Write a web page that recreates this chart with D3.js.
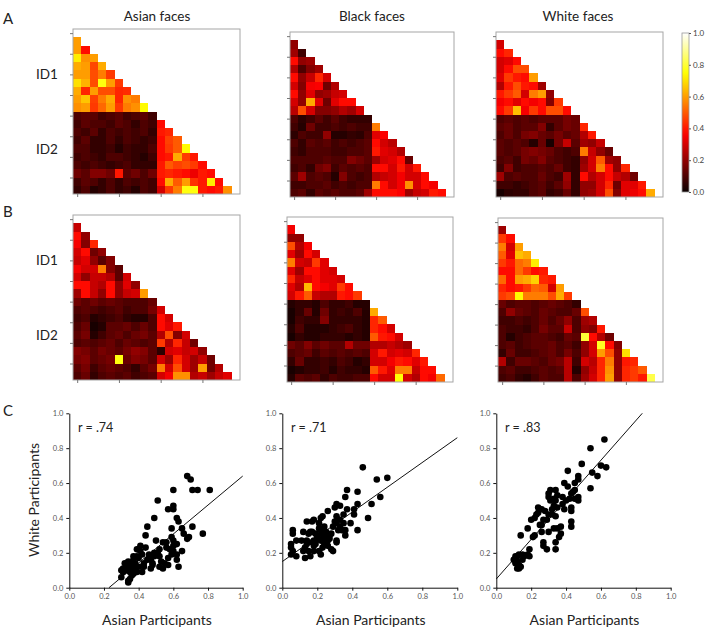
<!DOCTYPE html>
<html>
<head>
<meta charset="utf-8">
<script src="https://cdn.jsdelivr.net/npm/d3@7"></script>
<style>
  body { margin: 0; background: #fff; }
  text { font-family: Lato, "Open Sans", sans-serif; }
</style>
</head>
<body>
<svg id="fig" width="708" height="629"></svg>
<script>
// ---- DATA: similarity matrices (row i holds pairs i vs 0..i-1), 20 faces: ID1 = 0-9, ID2 = 10-19
const faceGroups = ['Asian faces', 'Black faces', 'White faces'];
const idLabels = ['ID1', 'ID2'];
const colorbarTicks = [0, 0.2, 0.4, 0.6, 0.8, 1.0];

const asianA = [
  [0.6],
  [0.6, 0.38],
  [0.72, 0.58, 0.6],
  [0.62, 0.6, 0.47, 0.62],
  [0.6, 0.6, 0.48, 0.55, 0.45],
  [0.7, 0.63, 0.48, 0.76, 0.6, 0.45],
  [0.62, 0.42, 0.6, 0.48, 0.48, 0.42, 0.43],
  [0.6, 0.66, 0.46, 0.55, 0.62, 0.42, 0.58, 0.55],
  [0.58, 0.6, 0.45, 0.52, 0.6, 0.45, 0.55, 0.58, 0.74],
  [0.1, 0.12, 0.12, 0.08, 0.1, 0.12, 0.08, 0.1, 0.12, 0.08],
  [0.08, 0.12, 0.1, 0.1, 0.08, 0.12, 0.1, 0.06, 0.1, 0.08, 0.38],
  [0.1, 0.08, 0.12, 0.06, 0.1, 0.08, 0.1, 0.08, 0.1, 0.06, 0.4, 0.42],
  [0.08, 0.12, 0.06, 0.06, 0.1, 0.06, 0.1, 0.08, 0.06, 0.08, 0.38, 0.46, 0.5],
  [0.1, 0.1, 0.06, 0.06, 0.08, 0.04, 0.08, 0.06, 0.06, 0.1, 0.38, 0.45, 0.5, 0.74],
  [0.08, 0.1, 0.08, 0.06, 0.1, 0.1, 0.08, 0.06, 0.04, 0.08, 0.38, 0.4, 0.62, 0.45, 0.4],
  [0.1, 0.08, 0.1, 0.08, 0.06, 0.08, 0.1, 0.06, 0.06, 0.06, 0.4, 0.5, 0.46, 0.48, 0.45, 0.38],
  [0.15, 0.12, 0.18, 0.18, 0.15, 0.4, 0.12, 0.15, 0.1, 0.15, 0.4, 0.42, 0.4, 0.38, 0.34, 0.4, 0.38],
  [0.08, 0.12, 0.1, 0.06, 0.1, 0.06, 0.1, 0.08, 0.1, 0.08, 0.38, 0.62, 0.5, 0.6, 0.44, 0.4, 0.72, 0.38],
  [0.06, 0.1, 0.04, 0.06, 0.1, 0.06, 0.08, 0.04, 0.1, 0.08, 0.3, 0.45, 0.55, 0.76, 0.76, 0.4, 0.38, 0.4, 0.58]
];
const blackA = [
  [0.2],
  [0.22, 0.08],
  [0.38, 0.2, 0.22],
  [0.25, 0.1, 0.18, 0.22],
  [0.38, 0.2, 0.28, 0.42, 0.3],
  [0.3, 0.18, 0.35, 0.36, 0.15, 0.25],
  [0.38, 0.2, 0.32, 0.2, 0.22, 0.28, 0.3],
  [0.3, 0.2, 0.62, 0.32, 0.15, 0.32, 0.38, 0.38],
  [0.26, 0.48, 0.3, 0.18, 0.18, 0.2, 0.25, 0.22, 0.3],
  [0.1, 0.05, 0.08, 0.12, 0.08, 0.12, 0.08, 0.06, 0.06, 0.06],
  [0.08, 0.04, 0.15, 0.08, 0.08, 0.1, 0.08, 0.1, 0.08, 0.08, 0.55],
  [0.05, 0.1, 0.08, 0.08, 0.2, 0.04, 0.04, 0.06, 0.05, 0.1, 0.32, 0.36],
  [0.1, 0.06, 0.12, 0.1, 0.12, 0.08, 0.1, 0.08, 0.1, 0.12, 0.38, 0.3, 0.26],
  [0.08, 0.06, 0.1, 0.1, 0.1, 0.08, 0.08, 0.1, 0.1, 0.12, 0.4, 0.32, 0.3, 0.25],
  [0.1, 0.1, 0.1, 0.1, 0.12, 0.1, 0.1, 0.18, 0.15, 0.12, 0.22, 0.3, 0.32, 0.38, 0.14],
  [0.08, 0.1, 0.06, 0.15, 0.18, 0.08, 0.12, 0.1, 0.12, 0.1, 0.38, 0.38, 0.3, 0.4, 0.3, 0.4],
  [0.12, 0.22, 0.1, 0.12, 0.1, 0.04, 0.18, 0.1, 0.08, 0.1, 0.25, 0.28, 0.3, 0.35, 0.3, 0.3, 0.38],
  [0.08, 0.08, 0.1, 0.1, 0.12, 0.08, 0.1, 0.08, 0.1, 0.1, 0.55, 0.38, 0.3, 0.35, 0.58, 0.3, 0.38, 0.35],
  [0.1, 0.12, 0.06, 0.12, 0.1, 0.12, 0.1, 0.1, 0.12, 0.22, 0.38, 0.38, 0.38, 0.36, 0.22, 0.28, 0.3, 0.4, 0.38]
];
const whiteA = [
  [0.3],
  [0.38, 0.42],
  [0.3, 0.32, 0.38],
  [0.3, 0.38, 0.48, 0.48],
  [0.32, 0.45, 0.4, 0.38, 0.6],
  [0.25, 0.4, 0.48, 0.4, 0.38, 0.22],
  [0.4, 0.45, 0.5, 0.3, 0.55, 0.6, 0.2],
  [0.35, 0.38, 0.32, 0.38, 0.35, 0.38, 0.18, 0.45],
  [0.38, 0.45, 0.65, 0.35, 0.45, 0.38, 0.48, 0.48, 0.38],
  [0.1, 0.12, 0.1, 0.12, 0.1, 0.12, 0.12, 0.12, 0.16, 0.14],
  [0.12, 0.14, 0.1, 0.12, 0.12, 0.18, 0.06, 0.12, 0.16, 0.14, 0.42],
  [0.1, 0.14, 0.1, 0.16, 0.18, 0.14, 0.12, 0.16, 0.12, 0.14, 0.25, 0.4],
  [0.12, 0.1, 0.12, 0.1, 0.04, 0.14, 0.02, 0.16, 0.28, 0.12, 0.22, 0.2, 0.28],
  [0.12, 0.1, 0.12, 0.16, 0.18, 0.16, 0.14, 0.1, 0.08, 0.1, 0.55, 0.28, 0.2, 0.14],
  [0.1, 0.12, 0.08, 0.16, 0.14, 0.18, 0.12, 0.1, 0.08, 0.06, 0.2, 0.3, 0.5, 0.22, 0.2],
  [0.08, 0.18, 0.08, 0.1, 0.1, 0.12, 0.1, 0.14, 0.08, 0.06, 0.22, 0.3, 0.55, 0.38, 0.2, 0.42],
  [0.22, 0.1, 0.12, 0.1, 0.1, 0.14, 0.1, 0.08, 0.22, 0.06, 0.38, 0.25, 0.3, 0.38, 0.28, 0.25, 0.15],
  [0.08, 0.08, 0.06, 0.08, 0.1, 0.12, 0.08, 0.12, 0.2, 0.06, 0.2, 0.2, 0.3, 0.42, 0.15, 0.32, 0.32, 0.4],
  [0.02, 0.05, 0.06, 0.06, 0.1, 0.12, 0.06, 0.08, 0.14, 0.06, 0.2, 0.22, 0.3, 0.48, 0.18, 0.32, 0.34, 0.38, 0.62]
];
const asianB = [
  [0.28],
  [0.38, 0.2],
  [0.35, 0.18, 0.42],
  [0.3, 0.38, 0.15, 0.2],
  [0.28, 0.32, 0.2, 0.12, 0.18],
  [0.35, 0.3, 0.3, 0.55, 0.18, 0.12],
  [0.3, 0.2, 0.28, 0.28, 0.25, 0.12, 0.3],
  [0.38, 0.38, 0.28, 0.25, 0.38, 0.2, 0.32, 0.2],
  [0.22, 0.38, 0.28, 0.2, 0.38, 0.2, 0.28, 0.3, 0.6],
  [0.15, 0.12, 0.15, 0.12, 0.14, 0.12, 0.1, 0.1, 0.1, 0.14],
  [0.1, 0.12, 0.1, 0.08, 0.1, 0.12, 0.08, 0.1, 0.1, 0.16, 0.3],
  [0.08, 0.1, 0.04, 0.06, 0.08, 0.1, 0.06, 0.04, 0.04, 0.1, 0.38, 0.3],
  [0.1, 0.14, 0.02, 0.04, 0.12, 0.12, 0.14, 0.1, 0.14, 0.1, 0.38, 0.32, 0.4],
  [0.12, 0.16, 0.04, 0.08, 0.12, 0.14, 0.1, 0.14, 0.16, 0.12, 0.25, 0.48, 0.18, 0.3],
  [0.1, 0.12, 0.1, 0.12, 0.14, 0.1, 0.14, 0.12, 0.1, 0.12, 0.45, 0.25, 0.42, 0.28, 0.15],
  [0.18, 0.16, 0.12, 0.16, 0.14, 0.12, 0.16, 0.2, 0.18, 0.12, 0.05, 0.3, 0.32, 0.28, 0.3, 0.2],
  [0.16, 0.18, 0.12, 0.14, 0.16, 0.76, 0.14, 0.18, 0.16, 0.12, 0.3, 0.22, 0.42, 0.3, 0.22, 0.28, 0.15],
  [0.12, 0.16, 0.08, 0.12, 0.14, 0.12, 0.1, 0.06, 0.12, 0.16, 0.55, 0.3, 0.48, 0.3, 0.22, 0.6, 0.15, 0.25],
  [0.1, 0.14, 0.06, 0.1, 0.12, 0.1, 0.12, 0.08, 0.1, 0.12, 0.3, 0.35, 0.58, 0.58, 0.25, 0.28, 0.22, 0.28, 0.32]
];
const blackB = [
  [0.35],
  [0.2, 0.2],
  [0.48, 0.25, 0.35],
  [0.32, 0.22, 0.38, 0.3],
  [0.55, 0.3, 0.28, 0.45, 0.32],
  [0.32, 0.22, 0.38, 0.38, 0.32, 0.3],
  [0.42, 0.28, 0.32, 0.38, 0.32, 0.32, 0.3],
  [0.32, 0.25, 0.64, 0.38, 0.35, 0.32, 0.45, 0.38],
  [0.3, 0.4, 0.5, 0.28, 0.25, 0.25, 0.4, 0.38, 0.45],
  [0.04, 0.06, 0.06, 0.04, 0.1, 0.06, 0.06, 0.08, 0.04, 0.04],
  [0.02, 0.06, 0.14, 0.04, 0.15, 0.06, 0.08, 0.06, 0.1, 0.04, 0.62],
  [0.02, 0.08, 0.06, 0.06, 0.18, 0.06, 0.06, 0.06, 0.06, 0.04, 0.42, 0.5],
  [0.04, 0.1, 0.04, 0.04, 0.04, 0.06, 0.08, 0.1, 0.06, 0.04, 0.42, 0.38, 0.3],
  [0.02, 0.06, 0.04, 0.04, 0.06, 0.06, 0.06, 0.04, 0.06, 0.04, 0.5, 0.4, 0.38, 0.3],
  [0.15, 0.12, 0.18, 0.12, 0.15, 0.12, 0.12, 0.25, 0.15, 0.15, 0.25, 0.25, 0.28, 0.25, 0.22],
  [0.1, 0.12, 0.14, 0.08, 0.12, 0.1, 0.12, 0.1, 0.12, 0.1, 0.3, 0.4, 0.3, 0.32, 0.3, 0.42],
  [0.06, 0.14, 0.06, 0.06, 0.08, 0.06, 0.1, 0.08, 0.04, 0.06, 0.3, 0.3, 0.35, 0.4, 0.38, 0.32, 0.4],
  [0.02, 0.04, 0.06, 0.06, 0.08, 0.04, 0.08, 0.06, 0.06, 0.04, 0.5, 0.4, 0.32, 0.55, 0.55, 0.28, 0.38, 0.38],
  [0.04, 0.12, 0.1, 0.12, 0.06, 0.1, 0.08, 0.08, 0.1, 0.1, 0.38, 0.3, 0.3, 0.75, 0.3, 0.25, 0.38, 0.35, 0.52]
];
const whiteB = [
  [0.22],
  [0.45, 0.38],
  [0.55, 0.3, 0.6],
  [0.5, 0.32, 0.65, 0.62],
  [0.45, 0.4, 0.52, 0.55, 0.72],
  [0.38, 0.38, 0.52, 0.45, 0.38, 0.4],
  [0.52, 0.38, 0.6, 0.62, 0.68, 0.42, 0.4],
  [0.42, 0.38, 0.4, 0.45, 0.52, 0.5, 0.3, 0.6],
  [0.45, 0.48, 0.74, 0.55, 0.55, 0.55, 0.48, 0.62, 0.45],
  [0.14, 0.1, 0.12, 0.12, 0.1, 0.12, 0.14, 0.12, 0.1, 0.06],
  [0.1, 0.2, 0.14, 0.12, 0.1, 0.14, 0.12, 0.1, 0.1, 0.14, 0.48],
  [0.08, 0.08, 0.1, 0.08, 0.1, 0.14, 0.1, 0.14, 0.2, 0.1, 0.22, 0.25],
  [0.1, 0.08, 0.08, 0.06, 0.1, 0.16, 0.12, 0.12, 0.28, 0.1, 0.2, 0.18, 0.4],
  [0.1, 0.04, 0.08, 0.1, 0.12, 0.12, 0.1, 0.08, 0.14, 0.12, 0.8, 0.38, 0.25, 0.15],
  [0.1, 0.12, 0.08, 0.1, 0.12, 0.12, 0.14, 0.1, 0.12, 0.08, 0.2, 0.3, 0.78, 0.38, 0.18],
  [0.06, 0.14, 0.08, 0.08, 0.1, 0.12, 0.14, 0.1, 0.16, 0.1, 0.2, 0.3, 0.6, 0.48, 0.2, 0.7],
  [0.25, 0.08, 0.14, 0.14, 0.12, 0.1, 0.14, 0.16, 0.26, 0.08, 0.3, 0.26, 0.42, 0.55, 0.2, 0.4, 0.42],
  [0.1, 0.12, 0.08, 0.08, 0.1, 0.12, 0.1, 0.12, 0.26, 0.04, 0.2, 0.28, 0.42, 0.58, 0.2, 0.42, 0.45, 0.5],
  [0.08, 0.1, 0.06, 0.04, 0.08, 0.12, 0.1, 0.1, 0.26, 0.1, 0.22, 0.3, 0.42, 0.6, 0.2, 0.42, 0.45, 0.4, 0.82]
];

// ---- DATA: scatter (Asian participants x, White participants y)
const rLabels = ['r = .74', 'r = .71', 'r = .83'];
const axisTicks = [0, 0.2, 0.4, 0.6, 0.8, 1.0];
const fitSlope = [0.83, 0.71, 1.135];
const fitIntercept = [-0.19, 0.15, 0.05];

const asianPoints = [[0.68,0.64],[0.70,0.62],[0.71,0.56],[0.74,0.56],[0.81,0.56],[0.60,0.56],[0.51,0.50],[0.60,0.47],[0.60,0.45],[0.57,0.45],[0.49,0.40],[0.62,0.40],[0.63,0.38],[0.65,0.34],[0.59,0.34],[0.45,0.35],[0.71,0.35],[0.66,0.31],[0.69,0.29],[0.77,0.31],[0.44,0.30],[0.59,0.29],[0.60,0.27],[0.56,0.26],[0.54,0.26],[0.62,0.25],[0.50,0.27],[0.60,0.24],[0.58,0.22],[0.60,0.21],[0.65,0.21],[0.62,0.19],[0.59,0.19],[0.62,0.16],[0.57,0.17],[0.55,0.14],[0.53,0.15],[0.51,0.20],[0.49,0.20],[0.49,0.18],[0.46,0.19],[0.45,0.16],[0.47,0.16],[0.48,0.14],[0.47,0.11],[0.43,0.14],[0.40,0.17],[0.42,0.19],[0.41,0.21],[0.41,0.24],[0.39,0.22],[0.39,0.18],[0.37,0.18],[0.37,0.16],[0.38,0.14],[0.40,0.12],[0.42,0.09],[0.39,0.09],[0.37,0.11],[0.35,0.12],[0.33,0.12],[0.31,0.11],[0.33,0.10],[0.35,0.09],[0.30,0.06],[0.34,0.04],[0.34,0.03],[0.36,0.07],[0.37,0.08],[0.32,0.14],[0.34,0.15],[0.37,0.14],[0.43,0.12],[0.52,0.12],[0.54,0.11],[0.57,0.13],[0.52,0.18],[0.63,0.12],[0.68,0.28],[0.44,0.23],[0.56,0.23],[0.52,0.22],[0.48,0.13],[0.31,0.09],[0.35,0.05],[0.46,0.17],[0.40,0.22],[0.30,0.10]];
const blackPoints = [[0.46,0.69],[0.54,0.62],[0.60,0.63],[0.56,0.52],[0.51,0.48],[0.49,0.40],[0.43,0.33],[0.43,0.55],[0.37,0.56],[0.36,0.52],[0.43,0.48],[0.41,0.45],[0.41,0.42],[0.39,0.37],[0.37,0.45],[0.35,0.42],[0.36,0.30],[0.36,0.33],[0.33,0.47],[0.31,0.48],[0.30,0.46],[0.31,0.41],[0.33,0.35],[0.31,0.37],[0.32,0.33],[0.31,0.27],[0.31,0.26],[0.29,0.35],[0.28,0.31],[0.28,0.22],[0.29,0.21],[0.26,0.24],[0.26,0.44],[0.23,0.41],[0.24,0.35],[0.23,0.31],[0.25,0.29],[0.22,0.27],[0.22,0.33],[0.21,0.37],[0.21,0.21],[0.22,0.19],[0.23,0.23],[0.20,0.29],[0.19,0.31],[0.18,0.27],[0.17,0.26],[0.18,0.24],[0.17,0.32],[0.15,0.31],[0.17,0.38],[0.14,0.38],[0.14,0.27],[0.14,0.25],[0.13,0.23],[0.15,0.21],[0.16,0.18],[0.13,0.17],[0.12,0.21],[0.11,0.27],[0.06,0.33],[0.06,0.31],[0.08,0.27],[0.05,0.25],[0.05,0.23],[0.05,0.19],[0.06,0.21],[0.08,0.18],[0.18,0.21],[0.19,0.25],[0.24,0.25],[0.27,0.28],[0.34,0.33],[0.35,0.37],[0.33,0.39],[0.22,0.40],[0.18,0.39],[0.20,0.30],[0.25,0.32],[0.27,0.30],[0.21,0.34],[0.30,0.38],[0.16,0.32],[0.23,0.28],[0.26,0.27],[0.12,0.32],[0.20,0.28]];
const whitePoints = [[0.62,0.85],[0.54,0.80],[0.49,0.71],[0.60,0.70],[0.63,0.69],[0.55,0.66],[0.58,0.64],[0.54,0.57],[0.41,0.67],[0.47,0.64],[0.47,0.62],[0.45,0.60],[0.39,0.60],[0.41,0.58],[0.45,0.56],[0.47,0.52],[0.45,0.51],[0.47,0.50],[0.42,0.51],[0.43,0.54],[0.38,0.52],[0.40,0.50],[0.39,0.45],[0.43,0.46],[0.43,0.44],[0.43,0.38],[0.43,0.35],[0.37,0.35],[0.37,0.31],[0.35,0.34],[0.34,0.41],[0.35,0.46],[0.33,0.47],[0.34,0.50],[0.35,0.53],[0.34,0.56],[0.31,0.56],[0.30,0.54],[0.30,0.52],[0.33,0.51],[0.32,0.45],[0.30,0.42],[0.29,0.39],[0.27,0.39],[0.25,0.36],[0.26,0.45],[0.25,0.45],[0.24,0.43],[0.22,0.40],[0.24,0.46],[0.20,0.39],[0.23,0.42],[0.26,0.36],[0.26,0.32],[0.30,0.32],[0.33,0.34],[0.27,0.26],[0.27,0.24],[0.29,0.22],[0.34,0.26],[0.34,0.22],[0.21,0.29],[0.18,0.34],[0.14,0.30],[0.19,0.22],[0.18,0.19],[0.16,0.18],[0.19,0.18],[0.15,0.19],[0.13,0.19],[0.12,0.18],[0.11,0.18],[0.10,0.16],[0.11,0.14],[0.12,0.15],[0.13,0.13],[0.12,0.11],[0.13,0.11],[0.14,0.12],[0.15,0.16],[0.36,0.29],[0.32,0.42],[0.38,0.48],[0.44,0.55],[0.31,0.50],[0.28,0.44],[0.22,0.30]];

// ---- LAYOUT
const svg = d3.select('#fig');

// matplotlib "hot"
function hot(v) {
  const c = x => Math.max(0, Math.min(1, x));
  const r = c(0.0416 + v / 0.365 * 0.9584);
  const g = c((v - 0.365) / 0.381);
  const b = c((v - 0.746) / 0.254);
  return d3.rgb(r * 255, g * 255, b * 255).toString();
}

// [left, top, right, bottom] of each heatmap frame
const matrixPanels = [
  {data: asianA, box: [73, 29, 240, 194], ids: true},
  {data: blackA, box: [290, 32, 454, 197]},
  {data: whiteA, box: [496, 32, 663, 197]},
  {data: asianB, box: [73, 215, 240, 380], ids: true},
  {data: blackB, box: [287, 217, 453, 382]},
  {data: whiteB, box: [498, 218, 663, 382]}
];

function drawMatrix(p) {
  const [l, t, r, b] = p.box;
  const x = d3.scaleLinear().domain([-0.5, 19.5]).range([l, r]);
  const y = d3.scaleLinear().domain([-0.5, 19.5]).range([t, b]);
  const g = svg.append('g');

  const cells = [];
  p.data.forEach((row, i) => row.forEach((v, j) => cells.push({row: i + 1, col: j, v})));

  // snap cell edges to whole pixels so neighbours meet without seams
  const px = v => Math.round(v);
  g.selectAll('rect.cell').data(cells).enter().append('rect')
    .attr('class', 'cell')
    .attr('shape-rendering', 'crispEdges')
    .attr('x', d => px(x(d.col - 0.5)))
    .attr('y', d => px(y(d.row - 0.5)))
    .attr('width', d => px(x(d.col + 0.5)) - px(x(d.col - 0.5)))
    .attr('height', d => px(y(d.row + 0.5)) - px(y(d.row - 0.5)))
    .attr('fill', d => hot(d.v));

  g.append('rect')
    .attr('x', l).attr('y', t).attr('width', r - l).attr('height', b - t)
    .attr('fill', 'none').attr('stroke', '#a6a6a6').attr('stroke-width', 1);

  // ticks only, labels hidden
  const yAxis = g.append('g').attr('transform', `translate(${l},0)`)
    .call(d3.axisLeft(y).tickValues([0, 2.5, 5, 7.5, 10, 12.5, 15, 17.5]).tickSize(3).tickFormat(''));
  const xAxis = g.append('g').attr('transform', `translate(0,${b})`)
    .call(d3.axisBottom(x).tickValues([0, 5, 10, 15]).tickSize(3).tickFormat(''));
  [yAxis, xAxis].forEach(a => {
    a.select('.domain').remove();
    a.selectAll('line').attr('stroke', '#777');
  });

  if (p.ids) {
    g.append('text').attr('x', 36).attr('y', y(5) + 5).attr('font-size', 13.5).attr('fill', '#222').text(idLabels[0]);
    g.append('text').attr('x', 36).attr('y', y(14) + 5).attr('font-size', 13.5).attr('fill', '#222').text(idLabels[1]);
  }
}
matrixPanels.forEach(drawMatrix);

// column titles
[157, 372, 578].forEach((cx, i) => {
  svg.append('text').attr('x', cx).attr('y', 21).attr('text-anchor', 'middle')
    .attr('font-size', 13.5).attr('fill', '#222').text(faceGroups[i]);
});

// panel letters
[['A', 24], ['B', 217], ['C', 416]].forEach(([s, yy]) => {
  svg.append('text').attr('x', 3).attr('y', yy).attr('font-size', 15).attr('fill', '#222').text(s);
});

// colorbar
const defs = svg.append('defs');
const grad = defs.append('linearGradient').attr('id', 'hotgrad')
  .attr('x1', 0).attr('y1', 1).attr('x2', 0).attr('y2', 0);
d3.range(0, 1.0001, 0.05).forEach(v => grad.append('stop').attr('offset', v).attr('stop-color', hot(v)));
const cbY = d3.scaleLinear().domain([0, 1]).range([192, 33]);
svg.append('rect').attr('x', 682).attr('y', 33).attr('width', 7).attr('height', 159)
  .attr('fill', 'url(#hotgrad)').attr('stroke', '#999').attr('stroke-width', 0.8);
const cbAxis = svg.append('g').attr('transform', 'translate(689,0)')
  .call(d3.axisRight(cbY).tickValues(colorbarTicks).tickSize(2).tickFormat(d3.format('.1f')));
cbAxis.select('.domain').remove();
cbAxis.selectAll('line').attr('stroke', '#555');
cbAxis.selectAll('text').attr('font-size', 8).attr('fill', '#444').attr('x', 4);

// ---- SCATTER PLOTS
const scatterPanels = [
  {pts: asianPoints, x0: 69.3, x1: 242.7, ylab: true},
  {pts: blackPoints, x0: 282.3, x1: 457.3},
  {pts: whitePoints, x0: 496.3, x1: 670.7}
];
const sy = d3.scaleLinear().domain([0, 1]).range([587.7, 413.3]);

scatterPanels.forEach((p, k) => {
  const sx = d3.scaleLinear().domain([0, 1]).range([p.x0, p.x1]);
  const g = svg.append('g');

  const xa = g.append('g').attr('transform', `translate(0,${sy(0)})`)
    .call(d3.axisBottom(sx).tickValues(axisTicks).tickSize(3).tickSizeOuter(0).tickFormat(d3.format('.1f')));
  const ya = g.append('g').attr('transform', `translate(${p.x0},0)`)
    .call(d3.axisLeft(sy).tickValues(axisTicks).tickSize(3).tickSizeOuter(0).tickFormat(d3.format('.1f')));
  [xa, ya].forEach(a => {
    a.select('.domain').attr('stroke', '#111');
    a.selectAll('line').attr('stroke', '#111');
    a.selectAll('text').attr('font-size', 7.5).attr('fill', '#555');
  });

  // fit line clipped to the unit square
  const m = fitSlope[k], c = fitIntercept[k];
  const xa0 = Math.max(0, -c / m), xa1 = Math.min(1, (1 - c) / m);
  g.append('line')
    .attr('x1', sx(xa0)).attr('y1', sy(m * xa0 + c))
    .attr('x2', sx(xa1)).attr('y2', sy(m * xa1 + c))
    .attr('stroke', '#111').attr('stroke-width', 1);

  g.selectAll('circle').data(p.pts).enter().append('circle')
    .attr('cx', d => sx(d[0])).attr('cy', d => sy(d[1])).attr('r', 3.3).attr('fill', '#000');

  g.append('text').attr('x', sx(0.05)).attr('y', 432).attr('font-size', 12.5).attr('fill', '#222').text(rLabels[k]);
  g.append('text').attr('x', (p.x0 + p.x1) / 2 + 1).attr('y', 625).attr('text-anchor', 'middle')
    .attr('font-size', 14).attr('fill', '#222').text('Asian Participants');
  if (p.ylab) {
    g.append('text').attr('transform', 'translate(39,500) rotate(-90)').attr('text-anchor', 'middle')
      .attr('font-size', 14).attr('fill', '#222').text('White Participants');
  }
});
</script>
</body>
</html>
